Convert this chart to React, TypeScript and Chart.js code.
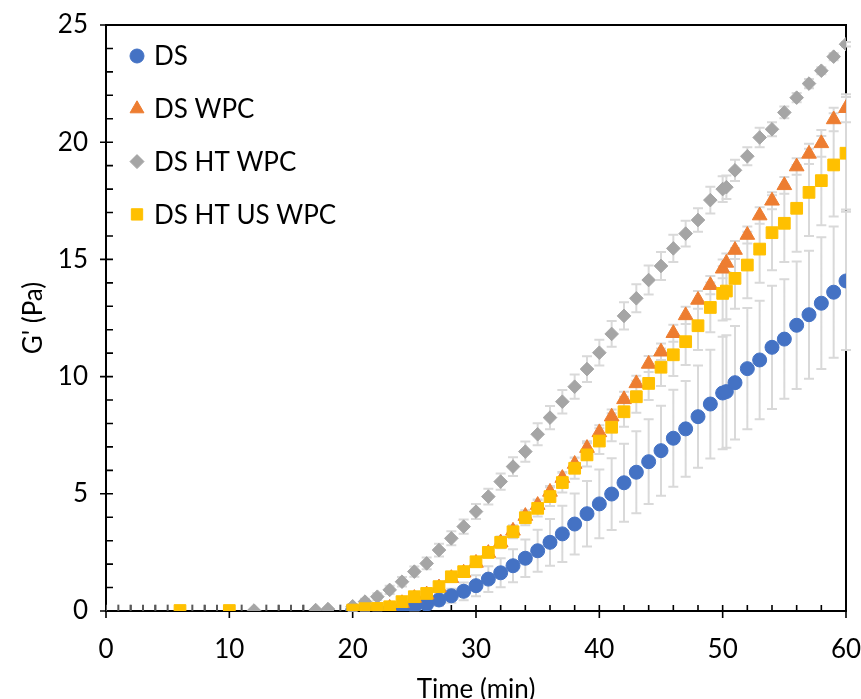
import { useEffect, useRef } from "react";
import { Chart, registerables } from "chart.js";
import { drawPoint } from "chart.js/helpers";

Chart.register(...registerables);

const FONT_FAMILY = "Lato, 'Noto Sans', sans-serif";
const TEXT_COLOR = "#000000";
const AXIS_COLOR = "#000000";
const ERROR_COLOR = "#d9d9d9";

// Sampling times (min) shared by the four series
const times = [
  20, 21, 22, 23, 24, 25, 26, 27, 28, 29, 30, 31, 32, 33, 34, 35, 36, 37, 38, 39, 40,
  41, 42, 43, 44, 45, 46, 47, 48, 49, 50, 50.3, 51, 52, 53, 54, 55, 56, 57, 58, 59, 60,
];

// G' (Pa) per series
const dsValues = [
  0.02, 0.03, 0.04, 0.05, 0.08, 0.18, 0.29, 0.47, 0.65, 0.84, 1.08, 1.36, 1.63, 1.93, 2.25,
  2.57, 2.93, 3.29, 3.71, 4.15, 4.57, 4.99, 5.47, 5.92, 6.37, 6.84, 7.37, 7.77, 8.29, 8.83,
  9.3, 9.36, 9.74, 10.34, 10.71, 11.25, 11.6, 12.19, 12.64, 13.13, 13.6, 14.08,
];
const dsErrors = [
  0.03, 0.04, 0.05, 0.07, 0.1, 0.15, 0.2, 0.25, 0.3, 0.38, 0.45, 0.55, 0.62, 0.7, 0.8,
  0.9, 1.0, 1.2, 1.3, 1.4, 1.47, 1.53, 1.66, 1.75, 1.81, 1.92, 2.07, 2.04, 2.18, 2.32,
  2.4, 2.4, 2.42, 2.59, 2.53, 2.63, 2.55, 2.72, 2.73, 2.81, 2.8, 2.95,
];

const wpcValues = [
  0.0, 0.05, 0.07, 0.13, 0.33, 0.55, 0.7, 1.0, 1.4, 1.63, 2.05, 2.47, 2.92, 3.42, 4.05,
  4.52, 5.08, 5.67, 6.27, 6.95, 7.62, 8.29, 9.03, 9.71, 10.54, 11.06, 11.85, 12.61, 13.27,
  13.9, 14.6, 14.85, 15.4, 16.04, 16.87, 17.5, 18.16, 18.96, 19.5, 19.95, 20.97, 21.45,
];
const wpcErrors = [
  0.02, 0.03, 0.04, 0.05, 0.06, 0.08, 0.1, 0.12, 0.14, 0.15, 0.17, 0.18, 0.2, 0.21, 0.22,
  0.24, 0.25, 0.26, 0.28, 0.29, 0.3, 0.31, 0.32, 0.33, 0.34, 0.35, 0.36, 0.37, 0.38, 0.39,
  0.4, 0.4, 0.38, 0.36, 0.35, 0.36, 0.36, 0.35, 0.43, 0.57, 0.5, 0.6,
];

const htWpcEarlyTimes = [12, 17, 18];
const htWpcEarlyValues = [0.02, 0.04, 0.08];
const htWpcValues = [
  0.2, 0.4, 0.61, 0.9, 1.25, 1.68, 2.03, 2.6, 3.1, 3.6, 4.24, 4.88, 5.52, 6.16, 6.8,
  7.54, 8.25, 8.93, 9.57, 10.32, 11.02, 11.82, 12.59, 13.34, 14.12, 14.72, 15.47, 16.1,
  16.68, 17.53, 18.0, 18.08, 18.8, 19.4, 20.2, 20.55, 21.27, 21.9, 22.5, 23.05, 23.65, 24.18,
];
const htWpcErrors = [
  0.1, 0.12, 0.15, 0.18, 0.2, 0.22, 0.25, 0.27, 0.3, 0.3, 0.32, 0.34, 0.35, 0.4, 0.43,
  0.47, 0.5, 0.5, 0.52, 0.55, 0.55, 0.55, 0.58, 0.6, 0.62, 0.6, 0.58, 0.55, 0.5, 0.57,
  0.55, 0.5, 0.45, 0.38, 0.42, 0.3, 0.25, 0.2, 0.2, 0.15, 0.15, 0.1,
];

const htUsWpcEarlyTimes = [6, 10];
const htUsWpcEarlyValues = [0.02, 0.02];
const htUsWpcValues = [
  0.04, 0.1, 0.11, 0.18, 0.4, 0.61, 0.75, 1.04, 1.46, 1.68, 2.1, 2.5, 2.93, 3.38, 3.98,
  4.38, 4.88, 5.48, 6.09, 6.66, 7.25, 7.84, 8.5, 9.14, 9.71, 10.4, 10.93, 11.49, 12.17,
  12.95, 13.55, 13.65, 14.19, 14.76, 15.44, 16.14, 16.54, 17.18, 17.86, 18.36, 19.03, 19.53,
];
const htUsWpcErrors = [
  0.03, 0.05, 0.05, 0.08, 0.1, 0.12, 0.14, 0.16, 0.18, 0.2, 0.2, 0.22, 0.25, 0.28, 0.32,
  0.35, 0.4, 0.42, 0.45, 0.5, 0.55, 0.6, 0.64, 0.68, 0.71, 0.8, 0.9, 1.0, 1.03, 1.06,
  1.16, 1.2, 1.3, 1.42, 1.44, 1.6, 1.65, 1.85, 1.86, 1.9, 2.2, 2.4,
];

// Short readings sitting on the baseline before gelation starts
const baselineTimes = [0, 1, 2, 3, 4, 5, 7, 8, 9, 11, 13, 14, 15, 16, 19];
const baselineValues = [0.1, 0.1, 0.1, 0.1, 0.1, 0.1, 0.1, 0.1, 0.1, 0.1, 0.1, 0.1, 0.1, 0.1, 0.1];

const seriesLabels = ["DS", "DS WPC", "DS HT WPC", "DS HT US WPC"];
const seriesColors = ["#4472C4", "#ED7D31", "#A5A5A5", "#FFC000"];

const xMin = 0;
const xMax = 60;
const xStep = 10;
const xMinorStep = 2;
const yMin = 0;
const yMax = 25;
const yStep = 5;
const yMinorStep = 1;

const toPoints = (xs: number[], ys: number[]) => xs.map((x, i) => ({ x, y: ys[i] }));
const zeros = (n: number) => new Array(n).fill(0);

// Box, crossing major ticks and inward minor ticks, drawn under the markers
const framePlugin = {
  id: "frame",
  beforeDatasetsDraw(chart: any) {
    const { ctx, chartArea: a, scales } = chart;
    const x = scales.x;
    const y = scales.y;
    ctx.save();
    ctx.strokeStyle = AXIS_COLOR;
    ctx.lineWidth = 2;
    ctx.strokeRect(a.left, a.top, a.right - a.left, a.bottom - a.top);
    ctx.lineWidth = 1.6;
    ctx.beginPath();
    for (let v = xMin; v <= xMax; v += xMinorStep) {
      const px = x.getPixelForValue(v);
      const major = v % xStep === 0;
      ctx.moveTo(px, a.bottom + (major ? 7 : 0));
      ctx.lineTo(px, a.bottom - 6);
    }
    for (let v = yMin; v <= yMax; v += yMinorStep) {
      const py = y.getPixelForValue(v);
      const major = v % yStep === 0;
      ctx.moveTo(a.left - (major ? 6 : 0), py);
      ctx.lineTo(a.left + 7, py);
    }
    ctx.stroke();
    ctx.restore();
  },
};

// ± error bars with caps, behind every series
const errorBarPlugin = {
  id: "errorBars",
  beforeDatasetsDraw(chart: any) {
    const { ctx, scales } = chart;
    const x = scales.x;
    const y = scales.y;
    ctx.save();
    ctx.strokeStyle = ERROR_COLOR;
    ctx.lineWidth = 2;
    ctx.beginPath();
    chart.data.datasets.forEach((ds: any) => {
      const errs: number[] | undefined = ds.errors;
      if (!errs) return;
      ds.data.forEach((p: { x: number; y: number }, j: number) => {
        const e = errs[j];
        if (!e) return;
        const px = x.getPixelForValue(p.x);
        const top = y.getPixelForValue(p.y + e);
        const bottom = y.getPixelForValue(Math.max(p.y - e, yMin));
        ctx.moveTo(px, top);
        ctx.lineTo(px, bottom);
        ctx.moveTo(px - 5, top);
        ctx.lineTo(px + 5, top);
        if (p.y - e >= yMin) {
          ctx.moveTo(px - 5, bottom);
          ctx.lineTo(px + 5, bottom);
        }
      });
    });
    ctx.stroke();
    ctx.restore();
  },
};

// Vertical legend inside the top-left corner of the plot
const insideLegendPlugin = {
  id: "insideLegend",
  afterDatasetsDraw(chart: any) {
    const { ctx, chartArea: a } = chart;
    ctx.save();
    ctx.font = `26px ${FONT_FAMILY}`;
    ctx.textAlign = "left";
    ctx.textBaseline = "middle";
    seriesLabels.forEach((label, i) => {
      const ds = chart.data.datasets[i];
      const cy = a.top + 31 + i * 52.8;
      const cx = a.left + 31;
      ctx.fillStyle = ds.backgroundColor;
      ctx.strokeStyle = ds.borderColor;
      drawPoint(ctx, {
        pointStyle: ds.pointStyle,
        radius: ds.legendRadius,
        rotation: 0,
        borderWidth: 1,
      }, cx, cy);
      ctx.fillStyle = TEXT_COLOR;
      ctx.fillText(label, a.left + 48, cy + 1);
    });
    ctx.restore();
  },
};

export default function App() {
  const canvasRef = useRef<HTMLCanvasElement | null>(null);

  useEffect(() => {
    const canvas = canvasRef.current;
    if (!canvas) return;

    const datasets: any[] = [
      {
        label: seriesLabels[0],
        data: toPoints(times, dsValues),
        errors: dsErrors,
        pointStyle: "circle",
        pointRadius: 7,
        legendRadius: 7,
        backgroundColor: seriesColors[0],
        borderColor: seriesColors[0],
        pointBorderWidth: 1,
        order: 4,
      },
      {
        label: seriesLabels[1],
        data: toPoints(times, wpcValues),
        errors: wpcErrors,
        pointStyle: "triangle",
        pointRadius: 8.5,
        legendRadius: 8,
        backgroundColor: seriesColors[1],
        borderColor: seriesColors[1],
        pointBorderWidth: 1,
        order: 3,
      },
      {
        label: seriesLabels[2],
        data: [
          ...toPoints(htWpcEarlyTimes, htWpcEarlyValues),
          ...toPoints(times, htWpcValues),
        ],
        errors: [...zeros(htWpcEarlyTimes.length), ...htWpcErrors],
        pointStyle: "rectRot",
        pointRadius: 6.8,
        legendRadius: 7,
        backgroundColor: seriesColors[2],
        borderColor: seriesColors[2],
        pointBorderWidth: 1,
        order: 2,
      },
      {
        label: seriesLabels[3],
        data: [
          ...toPoints(htUsWpcEarlyTimes, htUsWpcEarlyValues),
          ...toPoints(times, htUsWpcValues),
        ],
        errors: [...zeros(htUsWpcEarlyTimes.length), ...htUsWpcErrors],
        pointStyle: "rect",
        pointRadius: 8.3,
        legendRadius: 8,
        backgroundColor: seriesColors[3],
        borderColor: seriesColors[3],
        pointBorderWidth: 1,
        order: 1,
      },
      {
        label: "baseline",
        data: toPoints(baselineTimes, baselineValues),
        pointStyle: "line",
        rotation: 90,
        pointRadius: 4,
        backgroundColor: "#595959",
        borderColor: "#595959",
        pointBorderWidth: 2,
        order: 5,
      },
    ];

    const chart = new Chart(canvas, {
      type: "scatter",
      data: { datasets },
      plugins: [framePlugin, errorBarPlugin, insideLegendPlugin],
      options: {
        animation: false,
        responsive: false,
        maintainAspectRatio: false,
        devicePixelRatio: 1,
        events: [],
        layout: { padding: { left: 0, top: 25, right: 15, bottom: 0 } },
        plugins: {
          legend: { display: false },
          tooltip: { enabled: false },
        },
        scales: {
          x: {
            type: "linear",
            min: xMin,
            max: xMax,
            grid: { display: false, drawTicks: false },
            border: { display: false },
            ticks: {
              stepSize: xStep,
              color: TEXT_COLOR,
              padding: 23,
              font: { family: FONT_FAMILY, size: 26 },
            },
            title: {
              display: true,
              text: "Time (min)",
              color: TEXT_COLOR,
              font: { family: FONT_FAMILY, size: 26 },
              padding: { top: 0, bottom: -6 },
            },
            afterFit(scale: any) {
              scale.height = 88;
              scale.paddingLeft = 0;
              scale.paddingRight = 0;
            },
          },
          y: {
            type: "linear",
            min: yMin,
            max: yMax,
            grid: { display: false, drawTicks: false },
            border: { display: false },
            ticks: {
              stepSize: yStep,
              color: TEXT_COLOR,
              padding: 18,
              font: { family: FONT_FAMILY, size: 26 },
            },
            title: {
              display: true,
              text: "G' (Pa)",
              color: TEXT_COLOR,
              font: { family: FONT_FAMILY, size: 26 },
              padding: { top: 18, bottom: 0 },
            },
            afterFit(scale: any) {
              scale.width = 106;
              scale.paddingTop = 0;
              scale.paddingBottom = 0;
            },
          },
        },
      } as any,
    });

    return () => chart.destroy();
  }, []);

  return (
    <div style={{ position: "fixed", left: 0, top: 0, width: 861, height: 699, background: "#ffffff" }}>
      <canvas ref={canvasRef} width={861} height={699} style={{ display: "block" }} />
    </div>
  );
}
